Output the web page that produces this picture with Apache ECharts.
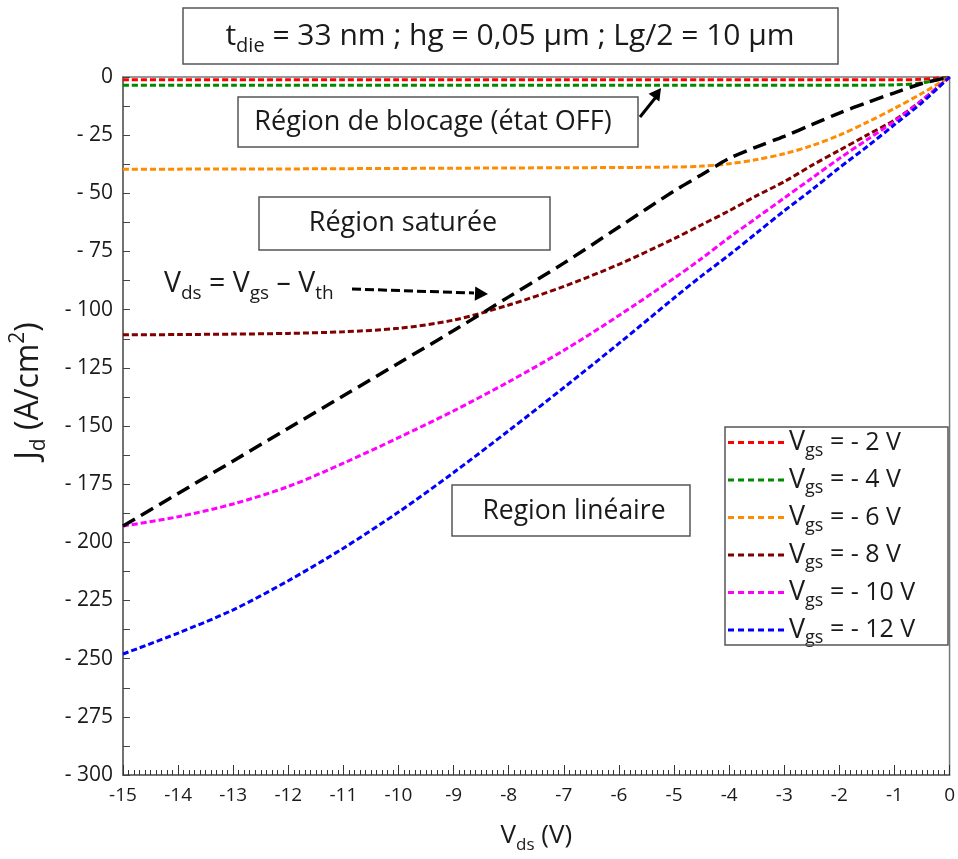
<!DOCTYPE html>
<html>
<head>
<meta charset="utf-8">
<script src="https://cdn.jsdelivr.net/npm/echarts@6/dist/echarts.min.js"></script>
<style>
html,body{margin:0;padding:0;background:#fff;}
#chart{width:958px;height:859px;}
</style>
</head>
<body>
<div id="chart"></div>
<script>
// ---- data ----
const vds = [-15,-14,-13,-12,-11,-10,-9,-8,-7,-6,-5,-4.5,-4,-3.5,-3,-2.5,-2,-1.5,-1,-0.5,0];
const jVgs2  = [-1.2,-1.2,-1.2,-1.2,-1.2,-1.2,-1.2,-1.2,-1.2,-1.2,-1.2,-1.2,-1.2,-1.2,-1.2,-1.2,-1.2,-1.2,-1.2,-1.0,0];
const jVgs4  = [-3.5,-3.5,-3.5,-3.5,-3.5,-3.5,-3.5,-3.5,-3.5,-3.5,-3.5,-3.5,-3.5,-3.5,-3.5,-3.5,-3.5,-3.5,-3.4,-2.5,0];
const jVgs6  = [-39.7,-39.6,-39.5,-39.5,-39.4,-39.3,-39.2,-39.1,-39,-38.9,-38.7,-38.3,-37.3,-35.5,-33,-29.5,-25,-19.5,-13.5,-7,0];
const jVgs8  = [-110.8,-110.7,-110.5,-110.2,-109.5,-108,-104.5,-98,-90,-80.5,-69.5,-63.5,-57.5,-51,-45,-38,-31.5,-25,-18.5,-10,0];
const jVgs10 = [-193,-189,-183.5,-176,-166,-155,-143.5,-131,-117.5,-102.5,-86.5,-78,-69,-60.5,-52,-43.5,-35,-27,-19,-10,0];
const jVgs12 = [-248,-239,-229,-216.5,-202.5,-187,-170,-152,-133.5,-114.5,-95,-85.5,-76.5,-67,-57.5,-48.5,-39,-30,-20.5,-11,0];
const jSat   = [-193,-179,-165,-151,-137,-123,-109,-94.5,-80,-64.5,-49,-42,-35,-30,-25.5,-20.5,-15.5,-11,-6.8,-2.8,0];
const seriesNames = ['Vgs = - 2 V','Vgs = - 4 V','Vgs = - 6 V','Vgs = - 8 V','Vgs = - 10 V','Vgs = - 12 V'];
const seriesColors = ['#ff0000','#008a00','#ff8c00','#800000','#ff00ff','#0000ff'];
const xTicks = {min:-15, max:0, interval:1};
const yTicks = {min:-300, max:0, interval:25};

const FONT = 'Open Sans';
const pair = ys => vds.map((x,i)=>[x, ys[i]]);
const curves = [jVgs2, jVgs4, jVgs6, jVgs8, jVgs10, jVgs12];

const series = curves.map((c,i)=>({
  name: seriesNames[i],
  type:'line',
  data: pair(c),
  symbol:'none',
  smooth:0.3,
  lineStyle:{color:seriesColors[i], width:3, type:[6,3]},
  itemStyle:{color:seriesColors[i]},
  z: 3
}));
series.push({
  name:'sat',
  type:'line',
  data: pair(jSat),
  symbol:'none',
  smooth:0.3,
  lineStyle:{color:'#000', width:3.5, type:[14,7]},
  itemStyle:{color:'#000'},
  z: 4
});

function arrowHead(x1,y1,x2,y2,size){
  const a = Math.atan2(y2-y1,x2-x1);
  const s = size, w = size*0.55;
  return [[x2,y2],[x2 - s*Math.cos(a) + w*Math.sin(a), y2 - s*Math.sin(a) - w*Math.cos(a)],
          [x2 - s*Math.cos(a) - w*Math.sin(a), y2 - s*Math.sin(a) + w*Math.cos(a)]];
}

const dashIcon = 'path://M0,0h6v3h-6z M10,0h6v3h-6z M20,0h6v3h-6z M30,0h6v3h-6z M40,0h6v3h-6z M50,0h6v3h-6z';
const txtFill = '#1a1a1a';
const chart = echarts.init(document.getElementById('chart'));
chart.setOption({
  animation:false,
  backgroundColor:'#fff',
  grid:{left:123, right:8, top:77, bottom:83, show:true, borderColor:'#777', borderWidth:1.5},
  xAxis:{
    type:'value', min:xTicks.min, max:xTicks.max, interval:xTicks.interval,
    axisLine:{show:true, onZero:false, lineStyle:{color:'#666', width:1.5}},
    axisTick:{show:true, inside:true, length:10, lineStyle:{color:'#333'}},
    minorTick:{show:true, splitNumber:10, length:5, lineStyle:{color:'#333'}},
    splitLine:{show:false},
    axisLabel:{fontFamily:FONT, fontSize:19, color:txtFill, margin:11},
    name:'{v|V}{s|ds}{v| (V)}', nameLocation:'middle', nameGap:43,
    nameTextStyle:{rich:{
      v:{fontFamily:FONT, fontSize:26, color:txtFill, lineHeight:36},
      s:{fontFamily:FONT, fontSize:17, color:txtFill, lineHeight:17, verticalAlign:'bottom'}
    }}
  },
  yAxis:{
    type:'value', min:yTicks.min, max:yTicks.max, interval:yTicks.interval,
    axisLine:{show:true, onZero:false, lineStyle:{color:'#666', width:1.5}},
    axisTick:{show:true, inside:true, length:7, lineStyle:{color:'#444'}},
    minorTick:{show:true, splitNumber:2, length:7, lineStyle:{color:'#444'}},
    splitLine:{show:false},
    axisLabel:{fontFamily:FONT, fontSize:21, color:txtFill, margin:10,
      formatter: v => v === 0 ? '0' : '- ' + Math.abs(v)},
    name:'{v|J}{s|d}{v| (A/cm}{p|2}{v|)}', nameLocation:'middle', nameGap:73, nameRotate:90,
    nameTextStyle:{padding:[0,0,0,70], rich:{
      v:{fontFamily:FONT, fontSize:32, color:txtFill, lineHeight:42},
      s:{fontFamily:FONT, fontSize:21, color:txtFill, lineHeight:21, verticalAlign:'bottom'},
      p:{fontFamily:FONT, fontSize:21, color:txtFill, lineHeight:21, verticalAlign:'top'}
    }}
  },
  legend:{
    data: seriesNames,
    orient:'vertical', left:725, top:429,
    padding:[0,10,0,3], itemGap:7, itemWidth:56, itemHeight:3,
    icon: dashIcon,
    formatter: name => '{v|V}{s|gs}{n|' + name.slice(3) + '}',
    textStyle:{rich:{
      v:{fontFamily:FONT, fontSize:27, color:txtFill, lineHeight:34},
      s:{fontFamily:FONT, fontSize:18, color:txtFill, lineHeight:18, verticalAlign:'bottom'},
      n:{fontFamily:FONT, fontSize:25, color:txtFill, lineHeight:34}
    }}
  },
  series: series,
  graphic:[
    {type:'rect', shape:{x:725, y:427, width:223, height:218}, style:{fill:'rgba(255,255,255,0)', stroke:'#555', lineWidth:1.5}, z:10},
    {type:'rect', shape:{x:183, y:8, width:655, height:56}, style:{fill:'#fff', stroke:'#555', lineWidth:1.5}, z:10},
    {type:'text', x:510, y:36, z:11, style:{
      text:'{n|t}{s|die}{n| = 33 nm ; hg = 0,05 µm ; Lg/2 = 10 µm}',
      align:'center', verticalAlign:'middle',
      rich:{
        n:{fontFamily:FONT, fontSize:30, fill:txtFill, lineHeight:40},
        s:{fontFamily:FONT, fontSize:20, fill:txtFill, lineHeight:20, verticalAlign:'bottom'}
      }}},
    {type:'rect', shape:{x:238, y:97, width:400, height:50}, style:{fill:'#fff', stroke:'#555', lineWidth:1.5}, z:10},
    {type:'text', x:433, y:122, z:11, style:{text:'Région de blocage (état OFF)', fontFamily:FONT, fontSize:27, fill:txtFill, align:'center', verticalAlign:'middle'}},
    {type:'line', shape:{x1:640, y1:117, x2:656, y2:97}, style:{stroke:'#000', lineWidth:3}, z:11},
    {type:'polygon', shape:{points:arrowHead(640,117,661,88,12)}, style:{fill:'#000'}, z:11},
    {type:'rect', shape:{x:259, y:197, width:291, height:53}, style:{fill:'#fff', stroke:'#555', lineWidth:1.5}, z:10},
    {type:'text', x:403, y:223, z:11, style:{text:'Région saturée', fontFamily:FONT, fontSize:27, fill:txtFill, align:'center', verticalAlign:'middle'}},
    {type:'text', x:164, y:284, z:11, style:{
      text:'{v|V}{s|ds}{v| = V}{s|gs}{v| – V}{s|th}',
      align:'left', verticalAlign:'middle',
      rich:{
        v:{fontFamily:FONT, fontSize:28.5, fill:txtFill, lineHeight:38},
        s:{fontFamily:FONT, fontSize:19, fill:txtFill, lineHeight:19, verticalAlign:'bottom'}
      }}},
    {type:'line', shape:{x1:352, y1:289, x2:474, y2:293}, style:{stroke:'#000', lineWidth:3, lineDash:[9,4]}, z:11},
    {type:'polygon', shape:{points:arrowHead(352,289,488,294,13)}, style:{fill:'#000'}, z:11},
    {type:'rect', shape:{x:452, y:485, width:238, height:51}, style:{fill:'#fff', stroke:'#555', lineWidth:1.5}, z:10},
    {type:'text', x:574, y:511, z:11, style:{text:'Region linéaire', fontFamily:FONT, fontSize:26.5, fill:txtFill, align:'center', verticalAlign:'middle'}}
  ]
});
</script>
</body>
</html>
